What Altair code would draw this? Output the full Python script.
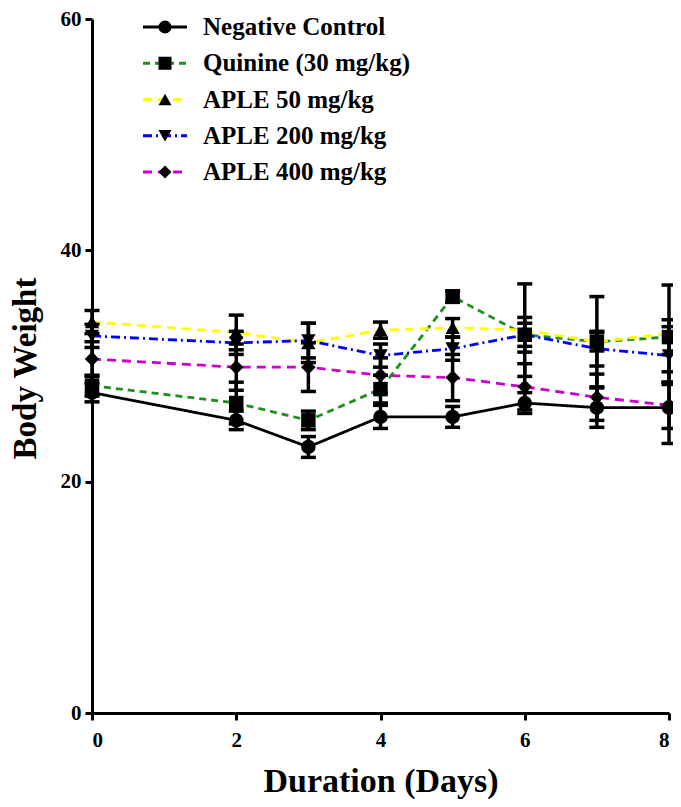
import altair as alt
import pandas as pd

days = [0, 2, 3, 4, 5, 6, 7, 8]
series = ["Negative Control", "Quinine (30 mg/kg)", "APLE 50 mg/kg", "APLE 200 mg/kg", "APLE 400 mg/kg"]

neg = [27.7, 25.3, 23.0, 25.6, 25.6, 26.8, 26.4, 26.4]
neg_err = [0.8, 0.8, 0.9, 1.0, 0.9, 0.9, 1.7, 3.1]
quin = [28.3, 26.8, 25.3, 28.0, 36.0, 32.7, 32.1, 32.5]
quin_err = [0.9, 1.8, 0.8, 1.2, 0.5, 1.0, 0.8, 1.5]
aple50 = [33.8, 32.9, 32.0, 33.1, 33.3, 33.1, 32.1, 32.8]
aple50_err = [1.0, 1.5, 1.7, 0.7, 0.8, 4.0, 3.9, 4.2]
aple200 = [32.6, 32.0, 32.2, 30.9, 31.5, 32.7, 31.5, 30.9]
aple200_err = [1.0, 1.0, 1.5, 1.0, 1.0, 1.5, 1.5, 2.5]
aple400 = [30.6, 29.9, 29.9, 29.2, 29.0, 28.2, 27.3, 26.6]
aple400_err = [1.5, 2.0, 2.1, 1.5, 2.0, 2.0, 2.0, 2.0]

colors = ["#000000", "#1f8f1f", "#ffff00", "#0000ff", "#cc00cc"]
shapes = ["circle", "square", "triangle-up", "triangle-down", "diamond"]
dashes = [[1, 0], [7, 5], [9, 6], [9, 4, 2, 4], [9, 6]]

means = [neg, quin, aple50, aple200, aple400]
errs = [neg_err, quin_err, aple50_err, aple200_err, aple400_err]

rows = []
for s, m, e in zip(series, means, errs):
    for d, v, er in zip(days, m, e):
        rows.append({"series": s, "day": d, "mean": v, "lo": v - er, "hi": v + er})
df = pd.DataFrame(rows)
leg_df = pd.DataFrame({"series": series, "idx": list(range(len(series)))})

FONT = "Liberation Serif"
W, H = 577, 694

x = alt.X("day:Q", scale=alt.Scale(domain=[0, 8], nice=False),
          axis=alt.Axis(values=[0, 2, 4, 6, 8], format="d", title="Duration (Days)", titleX=W / 2, titleY=68,
                        titleFontSize=34, titleBaseline="middle", titleAlign="center", labelPadding=9))
y = alt.Y("mean:Q", scale=alt.Scale(domain=[0, 60], nice=False),
          axis=alt.Axis(values=[0, 20, 40, 60], format="d", title="Body Weight", titleX=-67, titleY=H / 2 + 2,
                        titleFontSize=33, titleAngle=270, titleBaseline="middle", titleAlign="center",
                        labelPadding=4))

col = alt.Color("series:N", scale=alt.Scale(domain=series, range=colors), legend=None)
shp = alt.Shape("series:N", scale=alt.Scale(domain=series, range=shapes), legend=None)
dsh = alt.StrokeDash("series:N", scale=alt.Scale(domain=series, range=dashes), legend=None)

base = alt.Chart(df)
lines = base.mark_line(strokeWidth=2.8).encode(x=x, y=y, color=col, strokeDash=dsh, detail="series:N")
bars = base.mark_rule(color="black", strokeWidth=3.5, opacity=1).encode(x="day:Q", y="lo:Q", y2="hi:Q")
cap_lo = base.mark_tick(color="black", thickness=3.5, size=15, orient="horizontal", opacity=1).encode(x="day:Q", y="lo:Q")
cap_hi = base.mark_tick(color="black", thickness=3.5, size=15, orient="horizontal", opacity=1).encode(x="day:Q", y="hi:Q")
pts = base.mark_point(filled=True, color="black", opacity=1, size=210).encode(x="day:Q", y="mean:Q", shape=shp)

ly = alt.Y("idx:Q", scale=alt.Scale(domain=[0, 4], range=[8, 153], nice=False, zero=False), axis=None)
lbase = alt.Chart(leg_df)
leg_line = lbase.mark_rule(strokeWidth=2.8).encode(x=alt.value(51), x2=alt.value(95), y=ly, color=col, strokeDash=dsh)
leg_pt = lbase.mark_point(filled=True, color="black", opacity=1, size=170).encode(x=alt.value(73), y=ly, shape=shp)
leg_txt = lbase.mark_text(align="left", baseline="middle", font=FONT, fontWeight="bold", fontSize=25,
                          color="black").encode(x=alt.value(111), y=ly, text="series:N")

main = alt.layer(lines, bars, cap_lo, cap_hi, pts)
legend = alt.layer(leg_line, leg_pt, leg_txt)

chart = alt.layer(main, legend).resolve_scale(y="independent").properties(
    width=W, height=H,
    autosize=alt.AutoSizeParams(type="none"),
    padding={"left": 84, "top": 11, "right": 4, "bottom": 86},
).configure_view(stroke=None).configure_axis(
    domainColor="black", domainWidth=3, tickColor="black", tickWidth=3, tickSize=7,
    labelFont=FONT, labelFontWeight="bold", labelFontSize=21, labelColor="black",
    titleFont=FONT, titleFontWeight="bold", titleColor="black", grid=False,
)

chart.save("out.html", embed_options={"renderer": "svg", "actions": False})
